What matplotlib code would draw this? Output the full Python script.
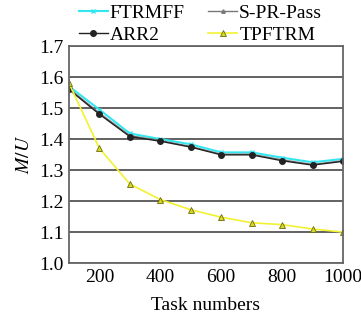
import numpy as np
import matplotlib.pyplot as plt

# ------------------ data ------------------
tasks = [100, 200, 300, 400, 500, 600, 700, 800, 900, 1000]
ftrmff = [1.570, 1.495, 1.418, 1.400, 1.383, 1.357, 1.357, 1.340, 1.325, 1.336]
s_pr_pass = [1.563, 1.484, 1.411, 1.395, 1.376, 1.351, 1.351, 1.333, 1.318, 1.330]
arr2 = [1.560, 1.480, 1.408, 1.393, 1.374, 1.349, 1.349, 1.330, 1.316, 1.328]
tpftrm = [1.580, 1.370, 1.255, 1.205, 1.172, 1.148, 1.130, 1.124, 1.110, 1.100]

xticks = [200, 400, 600, 800, 1000]
yticks = [1.0, 1.1, 1.2, 1.3, 1.4, 1.5, 1.6, 1.7]

plt.rcParams["font.family"] = ["Liberation Serif", "DejaVu Serif"]
plt.rcParams["mathtext.fontset"] = "stix"

fig = plt.figure(figsize=(3.61, 3.24), dpi=100)
ax = fig.add_axes([0.191, 0.188, 0.759, 0.670])

# horizontal grid
ax.grid(axis="y", color="#555555", lw=1.3)
ax.set_axisbelow(True)

l_ft, = ax.plot(tasks, ftrmff, color="#33e6f0", lw=1.5, marker="x", ms=3, label="FTRMFF")
l_sp, = ax.plot(tasks, s_pr_pass, color="#777777", lw=1.0, marker="^", ms=2.5, label="S-PR-Pass")
l_ar, = ax.plot(tasks, arr2, color="#222222", lw=1.0, marker="o", ms=4, label="ARR2")
l_tp, = ax.plot(tasks, tpftrm, color="#f2f230", lw=1.2, marker="^", ms=5,
                mfc="#d8d820", mec="#6b6b10", mew=0.6, label="TPFTRM")

ax.set_xlim(100, 1000)
ax.set_ylim(1.0, 1.7)
ax.set_xticks(xticks)
ax.set_yticks(yticks)
ax.set_yticklabels([f"{v:.1f}" for v in yticks])
ax.tick_params(axis="both", labelsize=14, length=0, pad=4)
for sp in ax.spines.values():
    sp.set_color("#666666")
    sp.set_linewidth(1.3)

ax.set_xlabel("Task numbers", fontsize=14, labelpad=8)
ax.set_ylabel("$M/U$", fontsize=14, labelpad=4)

# legend filled column-wise: row1 FTRMFF / S-PR-Pass, row2 ARR2 / TPFTRM
ax.legend([l_ft, l_ar, l_sp, l_tp], ["FTRMFF", "ARR2", "S-PR-Pass", "TPFTRM"],
          ncol=2, loc="lower center", bbox_to_anchor=(0.48, 0.975),
          frameon=False, fontsize=14, handlelength=1.5, handletextpad=0.1,
          columnspacing=1.2, labelspacing=0.2, borderaxespad=0.0)

fig.savefig("out.png", dpi=100)
